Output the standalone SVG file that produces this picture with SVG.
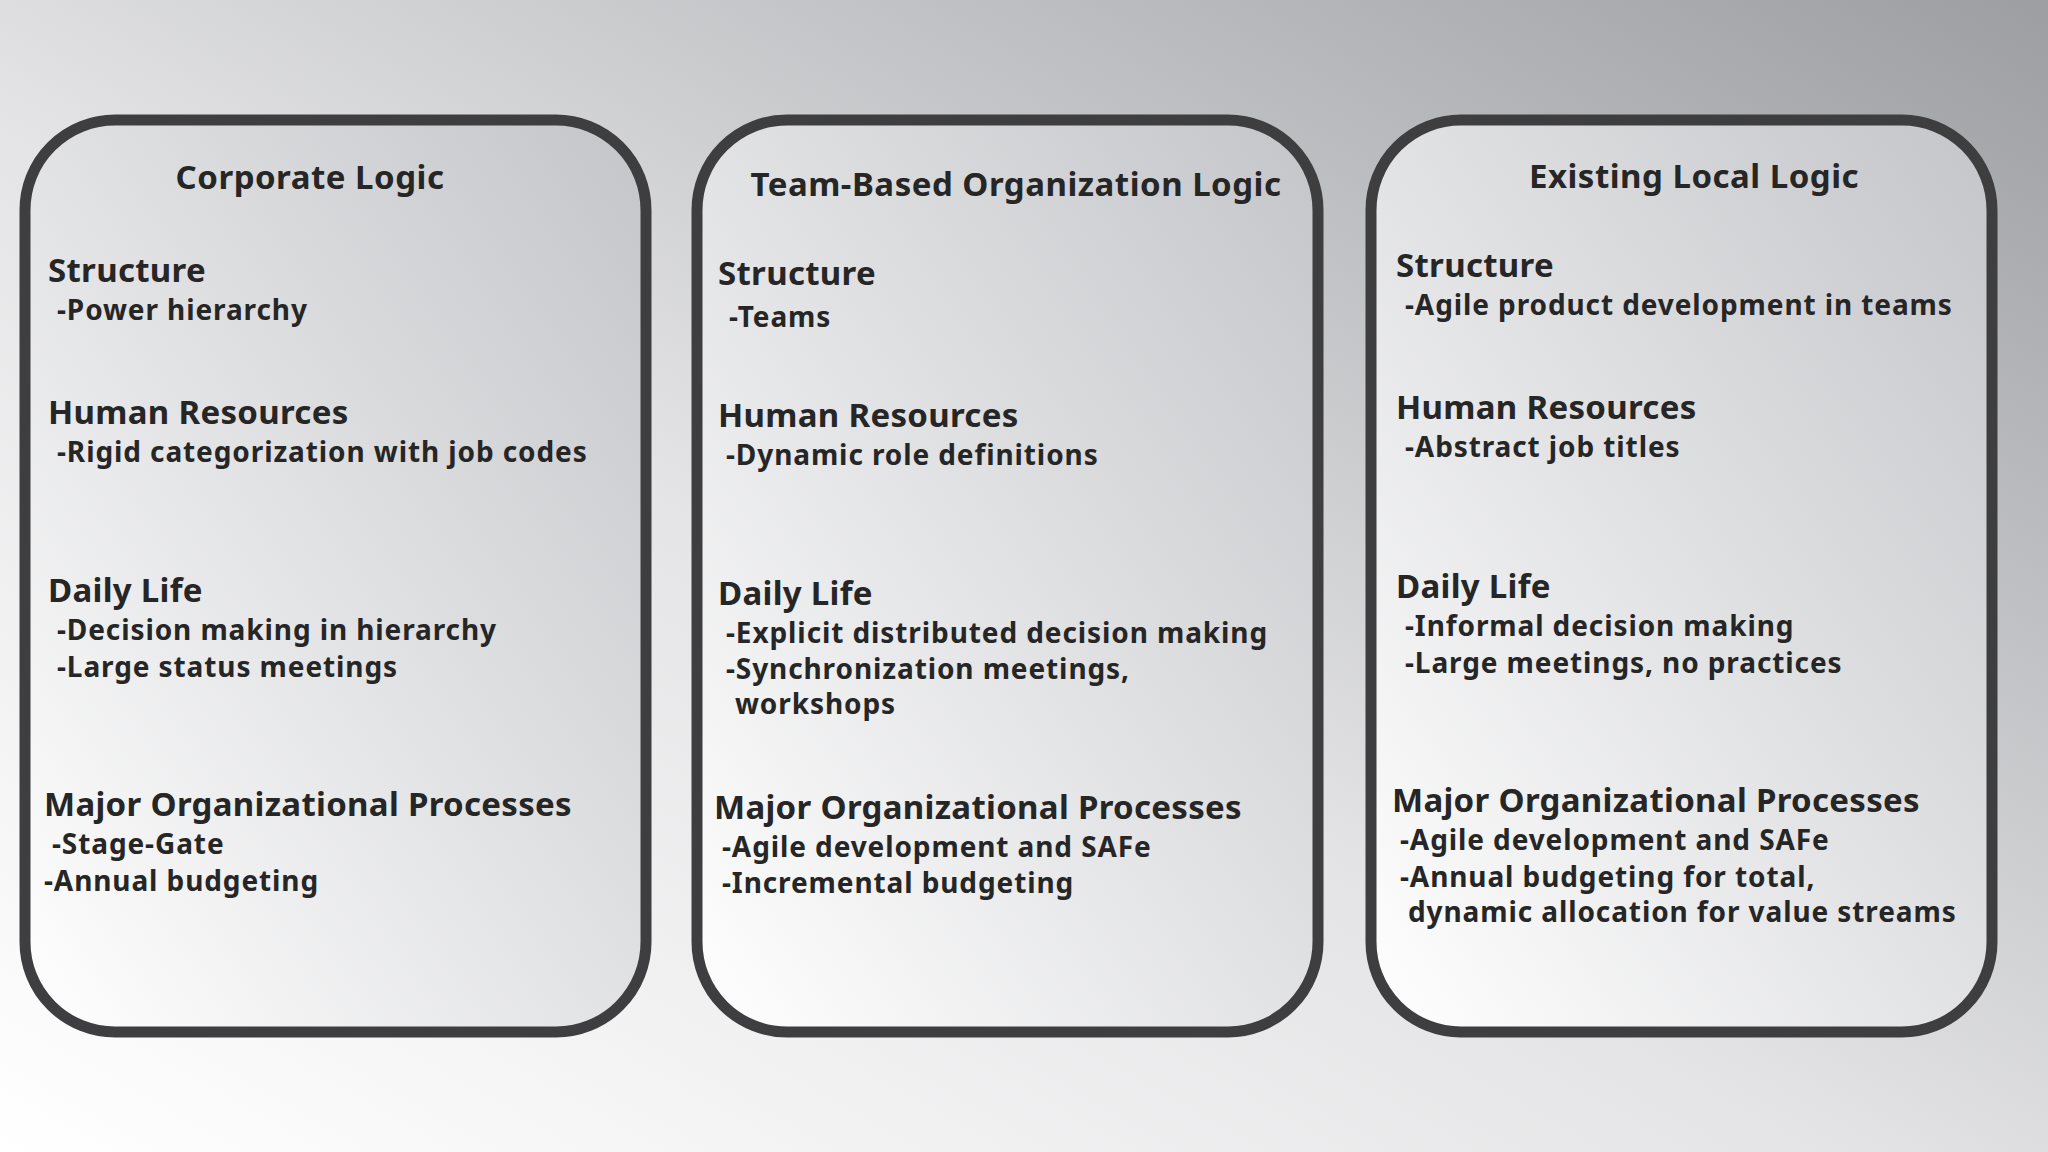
<svg xmlns="http://www.w3.org/2000/svg" width="2048" height="1152" viewBox="0 0 2048 1152">
<defs>
<linearGradient id="bg" x1="0" y1="1" x2="1" y2="0">
<stop offset="0" stop-color="#ffffff"/><stop offset="0.45" stop-color="#e4e4e6"/><stop offset="1" stop-color="#9c9ea2"/>
</linearGradient>
<linearGradient id="card" x1="0" y1="1" x2="1" y2="0">
<stop offset="0" stop-color="#ffffff"/><stop offset="1" stop-color="#c4c5c9"/>
</linearGradient>
<style>
.card{fill:url(#card);stroke:#3e3e40;stroke-width:11}
text{font-family:"Noto Sans","Open Sans",sans-serif;font-weight:bold;fill:#262626}
.h{font-size:33px;letter-spacing:0.3px}.i{font-size:28px;letter-spacing:0.9px}.t{font-size:33px;letter-spacing:0.5px;text-anchor:middle}
</style>
</defs>
<rect width="2048" height="1152" fill="url(#bg)"/>
<g id="corporate">
<rect class="card" x="25" y="120" width="621" height="912" rx="90"/>
<text class="t" x="310" y="189">Corporate Logic</text>
<text class="h" x="48" y="282">Structure</text>
<text class="i" x="57" y="320">-Power hierarchy</text>
<text class="h" x="48" y="424">Human Resources</text>
<text class="i" x="57" y="462">-Rigid categorization with job codes</text>
<text class="h" x="48" y="602">Daily Life</text>
<text class="i" x="57" y="640">-Decision making in hierarchy</text>
<text class="i" x="57" y="677">-Large status meetings</text>
<text class="h" x="44" y="816">Major Organizational Processes</text>
<text class="i" x="52" y="854">-Stage-Gate</text>
<text class="i" x="44" y="891">-Annual budgeting</text>
</g>
<g id="team">
<rect class="card" x="697" y="120" width="621" height="912" rx="90"/>
<text class="t" x="1016" y="196">Team-Based Organization Logic</text>
<text class="h" x="718" y="285">Structure</text>
<text class="i" x="729" y="327">-Teams</text>
<text class="h" x="718" y="427">Human Resources</text>
<text class="i" x="726" y="465">-Dynamic role definitions</text>
<text class="h" x="718" y="605">Daily Life</text>
<text class="i" x="726" y="643">-Explicit distributed decision making</text>
<text class="i" x="726" y="679">-Synchronization meetings,</text>
<text class="i" x="735" y="714">workshops</text>
<text class="h" x="714" y="819">Major Organizational Processes</text>
<text class="i" x="722" y="857">-Agile development and SAFe</text>
<text class="i" x="722" y="893">-Incremental budgeting</text>
</g>
<g id="local">
<rect class="card" x="1371" y="120" width="621" height="912" rx="90"/>
<text class="t" x="1694" y="188">Existing Local Logic</text>
<text class="h" x="1396" y="277">Structure</text>
<text class="i" x="1405" y="315">-Agile product development in teams</text>
<text class="h" x="1396" y="419">Human Resources</text>
<text class="i" x="1405" y="457">-Abstract job titles</text>
<text class="h" x="1396" y="598">Daily Life</text>
<text class="i" x="1405" y="636">-Informal decision making</text>
<text class="i" x="1405" y="673">-Large meetings, no practices</text>
<text class="h" x="1392" y="812">Major Organizational Processes</text>
<text class="i" x="1400" y="850">-Agile development and SAFe</text>
<text class="i" x="1400" y="887">-Annual budgeting for total,</text>
<text class="i" x="1408" y="922">dynamic allocation for value streams</text>
</g>
<g id="connectors"/>
</svg>
